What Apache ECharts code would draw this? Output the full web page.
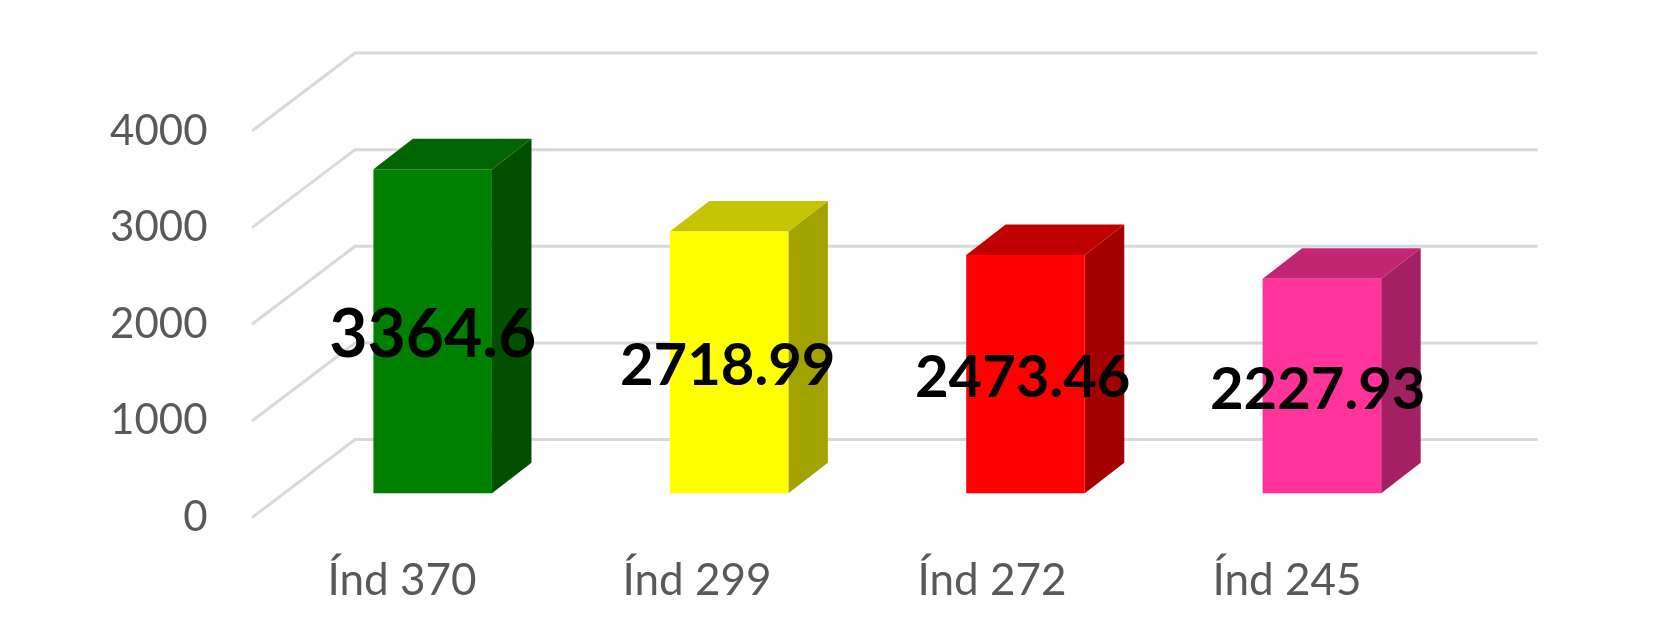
<!DOCTYPE html>
<html>
<head>
<meta charset="utf-8">
<style>html,body{margin:0;padding:0;background:#fff}#c{width:1674px;height:633px}</style>
<script src="https://cdn.jsdelivr.net/npm/echarts@6/dist/echarts.min.js"></script>
</head>
<body>
<div id="c"></div>
<script>
const categories = ['Índ 370', 'Índ 299', 'Índ 272', 'Índ 245'];
const values = [3364.6, 2718.99, 2473.46, 2227.93];
const valueLabels = ['3364.6', '2718.99', '2473.46', '2227.93'];
const yTicks = [0, 1000, 2000, 3000, 4000];

const frontColors = ['#008000', '#ffff00', '#ff0000', '#ff3399'];
const topColors = ['#006400', '#c4c400', '#c00000', '#c22574'];
const sideColors = ['#005000', '#a3a300', '#a30000', '#a32063'];
const labelSizes = [66, 58, 58, 58];

const FONT = 'Lato, Carlito, sans-serif';
const BAR_DX = 39.5, BAR_DY = 30.5;   // bar depth in pixels
const WALL_DX = 103, WALL_DY = 78;    // floor depth in pixels
const WALL_LEFT_SHIFT = 2.5;
const LABEL_DRIFT = 1.4;              // labels are spaced slightly tighter than bars

const chart = echarts.init(document.getElementById('c'), null, {renderer: 'canvas'});

function renderWall(params, api) {
  const p = api.coord([0, api.value(1)]);
  const left = params.coordSys.x - WALL_LEFT_SHIFT;
  const right = params.coordSys.x + params.coordSys.width + WALL_DX;
  return {
    type: 'polyline',
    shape: {points: [[left, p[1]], [left + WALL_DX, p[1] - WALL_DY], [right, p[1] - WALL_DY]]},
    style: {fill: null, stroke: '#d9d9d9', lineWidth: 3}
  };
}

function renderBar(params, api) {
  const i = params.dataIndex;
  const top = api.coord([i, api.value(1)]);
  const base = api.coord([i, 0]);
  const w = api.size([1, 0])[0] * 0.4;
  const x0 = top[0] - w / 2, x1 = top[0] + w / 2;
  const poly = (points, fill) => ({type: 'polygon', shape: {points}, style: {fill, stroke: null}});
  return {
    type: 'group',
    children: [
      poly([[x1, top[1]], [x1 + BAR_DX, top[1] - BAR_DY], [x1 + BAR_DX, base[1] - BAR_DY], [x1, base[1]]], sideColors[i]),
      poly([[x0, top[1]], [x0 + BAR_DX, top[1] - BAR_DY], [x1 + BAR_DX, top[1] - BAR_DY], [x1, top[1]]], topColors[i]),
      poly([[x0, top[1]], [x1, top[1]], [x1, base[1]], [x0, base[1]]], frontColors[i]),
      {
        type: 'text',
        z2: 50,
        style: {
          x: top[0] - i * LABEL_DRIFT, y: (top[1] + base[1]) / 2 + 4,
          text: valueLabels[i],
          fill: '#000000',
          font: '700 ' + labelSizes[i] + 'px ' + FONT,
          align: 'center', verticalAlign: 'middle'
        }
      }
    ]
  };
}

chart.setOption({
  animation: false,
  backgroundColor: '#ffffff',
  grid: [
    {left: 254.5, top: 131, width: 1180, height: 386.6},
    {left: 284.5, top: 108.1, width: 1185.6, height: 385.2}
  ],
  xAxis: [
    {
      type: 'category', gridIndex: 0, data: categories,
      axisLine: {show: false}, axisTick: {show: false}, splitLine: {show: false},
      axisLabel: {color: '#595959', fontFamily: FONT, fontSize: 44, margin: 41}
    },
    {type: 'category', gridIndex: 1, data: categories, show: false}
  ],
  yAxis: [
    {
      type: 'value', gridIndex: 0, min: 0, max: 4000, interval: 1000,
      axisLine: {show: false}, axisTick: {show: false}, splitLine: {show: false},
      axisLabel: {color: '#595959', fontFamily: FONT, fontSize: 42, margin: 47, padding: [5, 0, 0, 0], formatter: v => String(v)}
    },
    {type: 'value', gridIndex: 1, min: 0, max: 4000, interval: 1000, show: false}
  ],
  series: [
    {
      type: 'custom', xAxisIndex: 0, yAxisIndex: 0, clip: false, z: 1, silent: true,
      data: yTicks.map(v => [0, v]), encode: {x: 0, y: 1}, renderItem: renderWall
    },
    {
      type: 'custom', xAxisIndex: 1, yAxisIndex: 1, clip: false, z: 2,
      data: values.map((v, i) => [i, v]), encode: {x: 0, y: 1}, renderItem: renderBar
    }
  ]
});
</script>
</body>
</html>
